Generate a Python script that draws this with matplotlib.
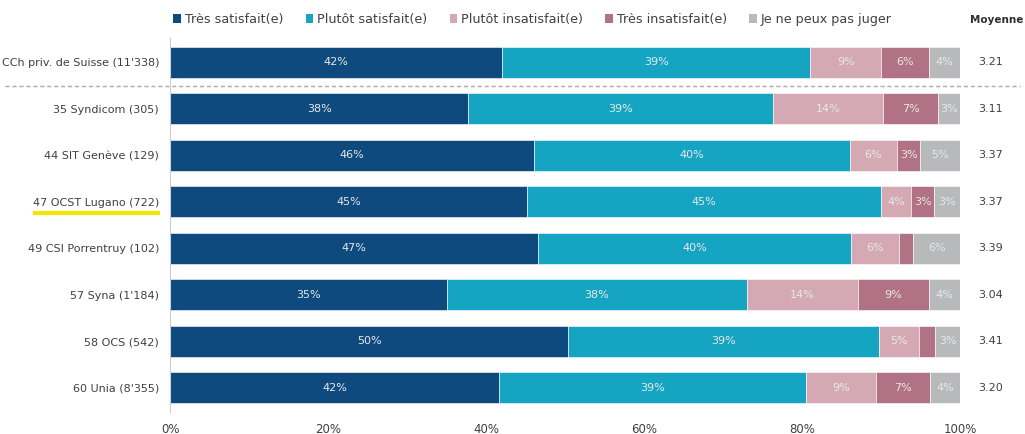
import numpy as np
import matplotlib
matplotlib.use('Agg')
from matplotlib import pyplot as plt
from matplotlib.patches import Patch
from matplotlib.transforms import blended_transform_factory

# DATA
labels = ["CCh priv. de Suisse (11'338)", "35 Syndicom (305)", "44 SIT Genève (129)",
          "47 OCST Lugano (722)", "49 CSI Porrentruy (102)", "57 Syna (1'184)",
          "58 OCS (542)", "60 Unia (8'355)"]
categories = ["Très satisfait(e)", "Plutôt satisfait(e)", "Plutôt insatisfait(e)",
              "Très insatisfait(e)", "Je ne peux pas juger"]
tres_sat = [42.0, 37.7, 46.1, 45.1, 46.6, 35.0, 50.4, 41.6]
plutot_sat = [39.0, 38.6, 39.9, 44.9, 39.6, 38.0, 39.3, 38.8]
plutot_insat = [9.0, 13.9, 6.0, 3.8, 6.0, 14.0, 5.1, 8.9]
tres_insat = [6.0, 7.0, 2.9, 2.9, 1.8, 9.0, 2.0, 6.8]
ne_peux = [4.0, 2.8, 5.1, 3.3, 6.0, 4.0, 3.2, 3.9]
moyenne = ["3.21", "3.11", "3.37", "3.37", "3.39", "3.04", "3.41", "3.20"]
xticks = [0, 20, 40, 60, 80, 100]

series = [tres_sat, plutot_sat, plutot_insat, tres_insat, ne_peux]
colors = ['#0e4a7e', '#15a5c3', '#d4a9b4', '#b07284', '#b8b9ba']

fig = plt.figure(figsize=(10.25, 4.34), dpi=100)
ax = fig.add_axes([0.166, 0.051, 0.771, 0.861])

y = np.arange(len(labels))
left = np.zeros(len(labels))
for vals, col in zip(series, colors):
    vals = np.array(vals)
    ax.barh(y, vals, left=left, height=0.66, color=col, edgecolor='white', linewidth=0.4)
    for yi, l, v in zip(y, left, vals):
        if v >= 2.5:
            ax.text(l + v / 2, yi, '%d%%' % round(v), ha='center', va='center',
                    fontsize=8, color='#e8e8e8')
    left += vals

ax.set_xlim(0, 100)
ax.set_ylim(len(labels) - 0.48, -0.52)
ax.set_yticks(y)
ax.set_yticklabels(labels, fontsize=8, color='#404040')
ax.set_xticks(xticks)
ax.set_xticklabels(['%d%%' % t for t in xticks], fontsize=8.5, color='#404040')
ax.tick_params(length=0, pad=8)
for s in ['top', 'right', 'bottom']:
    ax.spines[s].set_visible(False)
ax.spines['left'].set_color('#cccccc')

# separator between total and unions
tr = blended_transform_factory(fig.transFigure, ax.transData)
ax.plot([0.005, 0.995], [0.5, 0.5], transform=tr, color='#aaaaaa',
        linestyle=(0, (3, 2)), linewidth=1, clip_on=False)

# yellow highlight under OCST Lugano
ax.plot([0.032, 0.156], [3.24, 3.24], transform=tr, color='#f7e400',
        linewidth=3, clip_on=False, solid_capstyle='butt')

# mean column
for yi, m in zip(y, moyenne):
    ax.text(0.966, yi, m, transform=tr, ha='center', va='center', fontsize=8, color='#404040')
fig.text(0.998, 0.953, 'Moyenne', ha='right', va='center', fontsize=7.5,
         fontweight='bold', color='#303030')

handles = [Patch(facecolor=c, edgecolor='none') for c in colors]
fig.legend(handles, categories, loc='center left', bbox_to_anchor=(0.158, 0.955),
           ncol=5, frameon=False, fontsize=9.2, handlelength=0.6, handleheight=0.6,
           handletextpad=0.3, columnspacing=1.75, labelcolor='#404040')

plt.savefig('out.png', dpi=100)
plt.close()
